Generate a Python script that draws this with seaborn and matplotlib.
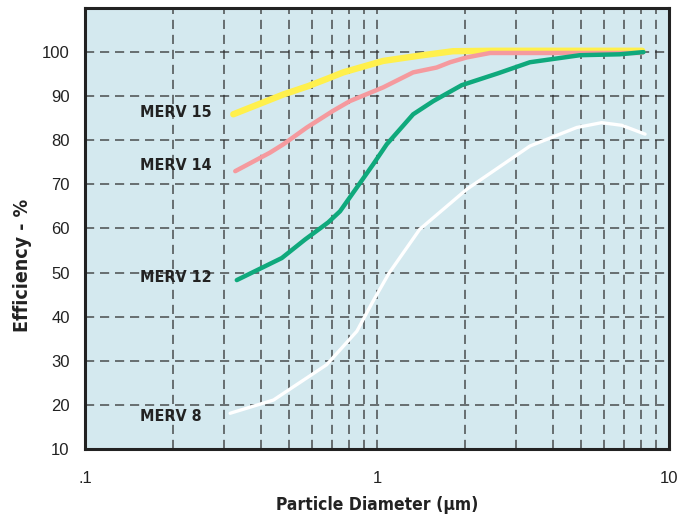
import numpy as np
import pandas as pd
import matplotlib
matplotlib.use("Agg")
import matplotlib.pyplot as plt
from matplotlib.ticker import LogLocator, FixedLocator, NullFormatter
import seaborn as sns

# ---- data ----
merv15_x = [0.322, 0.478, 0.582, 0.672, 0.766, 0.875, 1.05, 1.40, 1.82, 2.5, 4.0, 6.0, 8.1]
merv15_y = [85.9, 90.4, 92.3, 93.9, 95.4, 96.5, 98.0, 99.2, 100.2, 100.3, 100.3, 100.3, 100.3]

merv14_x = [0.327, 0.430, 0.478, 0.575, 0.708, 0.808, 1.05, 1.33, 1.60, 1.78, 2.03, 2.44, 4.0, 8.1]
merv14_y = [73.0, 77.2, 79.1, 82.9, 86.7, 88.9, 92.0, 95.4, 96.5, 97.7, 98.8, 99.8, 99.8, 99.8]

merv12_x = [0.331, 0.472, 0.567, 0.681, 0.747, 0.853, 0.969, 1.08, 1.33, 1.56, 1.95, 2.6, 3.34, 4.96, 6.78, 8.18]
merv12_y = [48.3, 53.3, 57.5, 61.4, 63.9, 69.3, 74.5, 79.1, 85.9, 88.9, 92.5, 95.2, 97.7, 99.3, 99.5, 100.0]

merv8_x = [0.314, 0.442, 0.672, 0.853, 0.969, 1.10, 1.40, 2.03, 3.34, 4.83, 5.88, 6.89, 8.28]
merv8_y = [18.1, 21.1, 29.1, 36.7, 43.5, 49.9, 59.8, 68.9, 78.7, 82.9, 84.0, 83.4, 81.4]

series_names = ["MERV 15", "MERV 14", "MERV 12", "MERV 8"]
label_y = [86.4, 74.2, 48.9, 17.4]
label_x = 0.154

xtick_vals = [0.1, 1, 10]
xtick_labels = [".1", "1", "10"]
ytick_vals = [10, 20, 30, 40, 50, 60, 70, 80, 90, 100]

# ---- styling ----
sns.set_style("white")
plt.rcParams["font.family"] = ["Liberation Sans", "DejaVu Sans"]
narrow = ["DejaVu Sans", "Liberation Sans"]

colors = {"MERV 15": "#fff04c", "MERV 14": "#f59a9e", "MERV 12": "#0fa97c", "MERV 8": "#ffffff"}
widths = {"MERV 15": 4.6, "MERV 14": 3.2, "MERV 12": 3.2, "MERV 8": 2.4}

fig = plt.figure(figsize=(6.95, 5.17), dpi=100)
ax = fig.add_axes([85 / 695, 1 - 449 / 517, (669 - 85) / 695, (449 - 8) / 517])
ax.set_facecolor("#d4e9ef")

ax.set_xscale("log")
ax.set_xlim(0.1, 10)
ax.set_ylim(10, 110)

# grid
ax.xaxis.set_major_locator(FixedLocator(xtick_vals))
ax.xaxis.set_minor_locator(LogLocator(base=10, subs=np.arange(2, 10)))
ax.xaxis.set_minor_formatter(NullFormatter())
ax.set_xticks(xtick_vals)
ax.set_xticklabels(xtick_labels)
ax.set_yticks(ytick_vals)
ax.set_yticklabels([str(v) for v in ytick_vals])
dash = (0, (5.5, 3.5))
ax.grid(True, which="both", axis="x", linestyle=dash, color="#2a2a2a", lw=1.2, alpha=0.75)
ax.grid(True, which="major", axis="y", linestyle=dash, color="#2a2a2a", lw=1.2, alpha=0.75)
ax.set_axisbelow(True)

frames = []
for name, xs, ys in zip(series_names,
                        [merv15_x, merv14_x, merv12_x, merv8_x],
                        [merv15_y, merv14_y, merv12_y, merv8_y]):
    frames.append(pd.DataFrame({"size": xs, "eff": ys, "filter": name}))
df = pd.concat(frames, ignore_index=True)

for name in series_names:
    sub = df[df["filter"] == name]
    sns.lineplot(data=sub, x="size", y="eff", ax=ax, color=colors[name],
                 lw=widths[name], sort=False, estimator=None,
                 solid_capstyle="round", solid_joinstyle="round", zorder=3)

for name, ly in zip(series_names, label_y):
    ax.text(label_x, ly, name, ha="left", va="center", fontsize=11.5,
            fontweight="bold", family=narrow, fontstretch="condensed", color="#222222")

ax.tick_params(axis="both", which="both", length=0, labelsize=12, labelcolor="#222222")
ax.tick_params(axis="y", pad=11)
ax.tick_params(axis="x", pad=16)

ax.set_xlabel("Particle Diameter (µm)", fontsize=12.5, fontweight="bold",
              family=narrow, fontstretch="condensed", color="#222222", labelpad=7)
ax.set_ylabel("Efficiency - %", fontsize=14, fontweight="bold",
              family=narrow, fontstretch="condensed", color="#222222")
ax.yaxis.set_label_coords(-0.091, 0.417)

for sp in ax.spines.values():
    sp.set_visible(True)
    sp.set_color("#222222")
    sp.set_linewidth(2.2)

fig.savefig("out.png", dpi=100)
